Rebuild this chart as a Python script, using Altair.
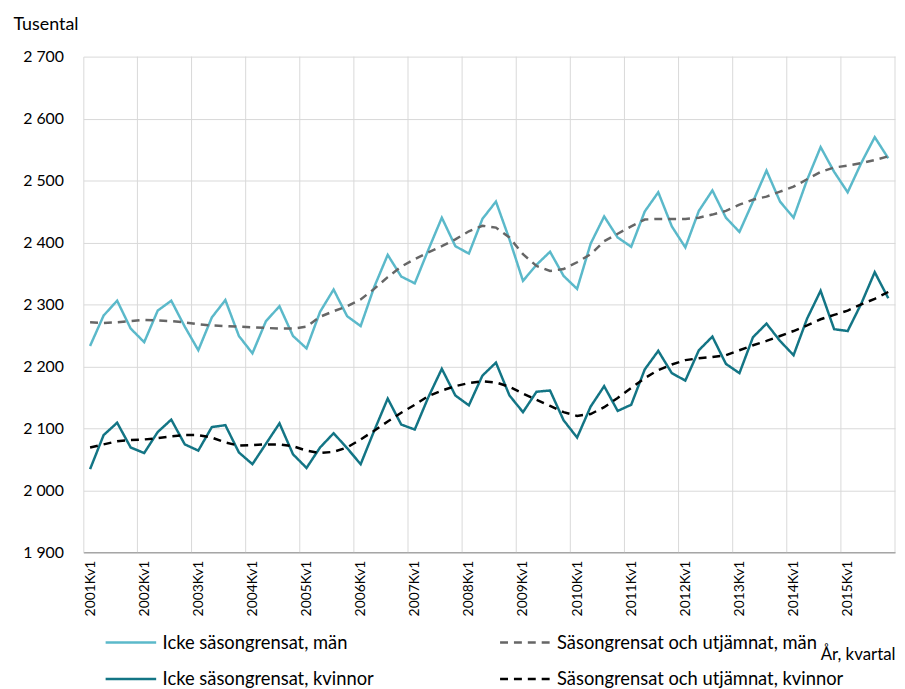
import json
import altair as alt
import pandas as pd

# ---------------- data ----------------
years = list(range(2001, 2016))
quarters = [f"{y}Kv{q}" for y in years for q in range(1, 5)]

# legend order (column-major fill: left column = raw series, right column = smoothed)
series_names = [
    "Icke säsongrensat, män",
    "Icke säsongrensat, kvinnor",
    "Säsongrensat och utjämnat, män",
    "Säsongrensat och utjämnat, kvinnor",
]

men_raw = [2233, 2282, 2306, 2261, 2239, 2290, 2306, 2264, 2226, 2279,
           2307, 2249, 2221, 2273, 2297, 2249, 2229, 2288, 2324, 2281,
           2265, 2328, 2380, 2345, 2334, 2388, 2440, 2394, 2382, 2438,
           2466, 2405, 2338, 2364, 2385, 2346, 2325, 2398, 2442, 2408,
           2393, 2450, 2481, 2426, 2392, 2451, 2484, 2440, 2417, 2466,
           2516, 2466, 2440, 2501, 2554, 2514, 2481, 2528, 2570, 2536]

men_sa = [2271, 2270, 2271, 2273, 2275, 2274, 2273, 2271, 2268, 2266,
          2265, 2264, 2263, 2262, 2261, 2261, 2264, 2280, 2289, 2297,
          2308, 2325, 2344, 2361, 2373, 2384, 2394, 2405, 2418, 2427,
          2424, 2408, 2381, 2362, 2354, 2357, 2368, 2381, 2402, 2414,
          2426, 2437, 2438, 2438, 2438, 2440, 2445, 2451, 2461, 2469,
          2474, 2482, 2490, 2502, 2514, 2521, 2524, 2528, 2533, 2539]

women_raw = [2034, 2089, 2109, 2069, 2060, 2094, 2114, 2074, 2064, 2102,
             2105, 2061, 2042, 2075, 2108, 2058, 2036, 2069, 2092, 2068,
             2042, 2096, 2148, 2106, 2098, 2150, 2196, 2153, 2137, 2185,
             2206, 2153, 2126, 2159, 2161, 2113, 2085, 2135, 2168, 2128,
             2138, 2195, 2225, 2189, 2177, 2226, 2248, 2204, 2189, 2247,
             2269, 2241, 2218, 2277, 2322, 2260, 2257, 2301, 2352, 2310]

women_sa = [2069, 2074, 2079, 2081, 2082, 2084, 2087, 2089, 2089, 2085,
            2077, 2072, 2073, 2074, 2074, 2071, 2064, 2060, 2062, 2069,
            2082, 2096, 2111, 2125, 2138, 2152, 2161, 2168, 2173, 2176,
            2174, 2167, 2156, 2146, 2136, 2126, 2120, 2123, 2134, 2149,
            2165, 2181, 2194, 2203, 2210, 2213, 2215, 2218, 2226, 2234,
            2241, 2249, 2257, 2266, 2276, 2283, 2290, 2300, 2309, 2320]

y_ticks = list(range(1900, 2701, 100))

colors = ["#5bb9ca", "#137585", "#666666", "#000000"]
dashes = [[1, 0], [1, 0], [8, 6], [8, 6]]

# ---------------- tables ----------------
rows = []
for name, vals in zip(series_names, [men_raw, women_raw, men_sa, women_sa]):
    for i, (q, v) in enumerate(zip(quarters, vals)):
        rows.append({"serie": name, "i": i, "kvartal": q, "value": v})
df = pd.DataFrame(rows)

edges = pd.DataFrame({"edge": [i + 0.5 for i, q in enumerate(quarters) if q.endswith("Kv4")]})

x_values = [i for i, q in enumerate(quarters) if q.endswith("Kv1")]
x_scale = alt.Scale(domain=[-0.5, len(quarters) - 0.5], nice=False, zero=False)
y_scale = alt.Scale(domain=[y_ticks[0], y_ticks[-1]], nice=False, zero=False)

FONT = "Lato"
GRID = "#d9d9d9"

x_axis = alt.Axis(
    values=x_values,
    labelExpr=json.dumps(quarters) + "[datum.value]",
    labelAngle=-90,
    labelFontSize=14,
    labelPadding=8,
    grid=False,
    ticks=False,
    domainColor="#a6a6a6",
    domainWidth=1.5,
    title="År, kvartal",
    titleFontSize=17,
    titleFontWeight="normal",
    titleX=819,
    titleY=108,
    titleAlign="right",
    titleBaseline="alphabetic",
)

legend = alt.Legend(
    title=None,
    orient="none",
    legendX=21,
    legendY=564,
    columns=2,
    columnPadding=121,
    rowPadding=-25,
    symbolType="stroke",
    symbolSize=2601,
    symbolStrokeWidth=2.5,
    labelFontSize=18.5,
    labelFont=FONT,
    labelColor="#000000",
    labelOffset=5,
    labelLimit=400,
)

rules = alt.Chart(edges).mark_rule(color=GRID, strokeWidth=1).encode(
    x=alt.X("edge:Q", scale=x_scale, axis=x_axis)
)

lines = alt.Chart(df).mark_line(strokeWidth=2.5).encode(
    x=alt.X("i:Q", scale=x_scale, axis=x_axis),
    y=alt.Y(
        "value:Q",
        scale=y_scale,
        axis=alt.Axis(
            values=y_ticks,
            labelExpr="replace(format(datum.value, ','), ',', ' ')",
            grid=True,
            gridColor=GRID,
            domainColor=GRID,
            ticks=False,
            labelPadding=20,
            labelFontSize=16,
            title="Tusental",
            titleAngle=0,
            titleX=-71,
            titleY=-27,
            titleAlign="left",
            titleBaseline="alphabetic",
            titleFontSize=18,
            titleFontWeight="normal",
        ),
    ),
    color=alt.Color("serie:N", scale=alt.Scale(domain=series_names, range=colors), legend=legend),
    strokeDash=alt.StrokeDash("serie:N", scale=alt.Scale(domain=series_names, range=dashes), legend=legend),
    detail="serie:N",
)

chart = alt.layer(rules, lines).properties(
    width=819,
    height=500,
    autosize=alt.AutoSizeParams(type="none"),
    padding={"left": 76, "top": 46, "right": 2, "bottom": 135},
).configure(
    font=FONT,
).configure_view(
    stroke=None
).configure_axis(
    labelColor="#000000",
    titleColor="#000000",
    labelFont=FONT,
    titleFont=FONT,
)

chart.save("out.html", embed_options={"renderer": "svg", "actions": False})
